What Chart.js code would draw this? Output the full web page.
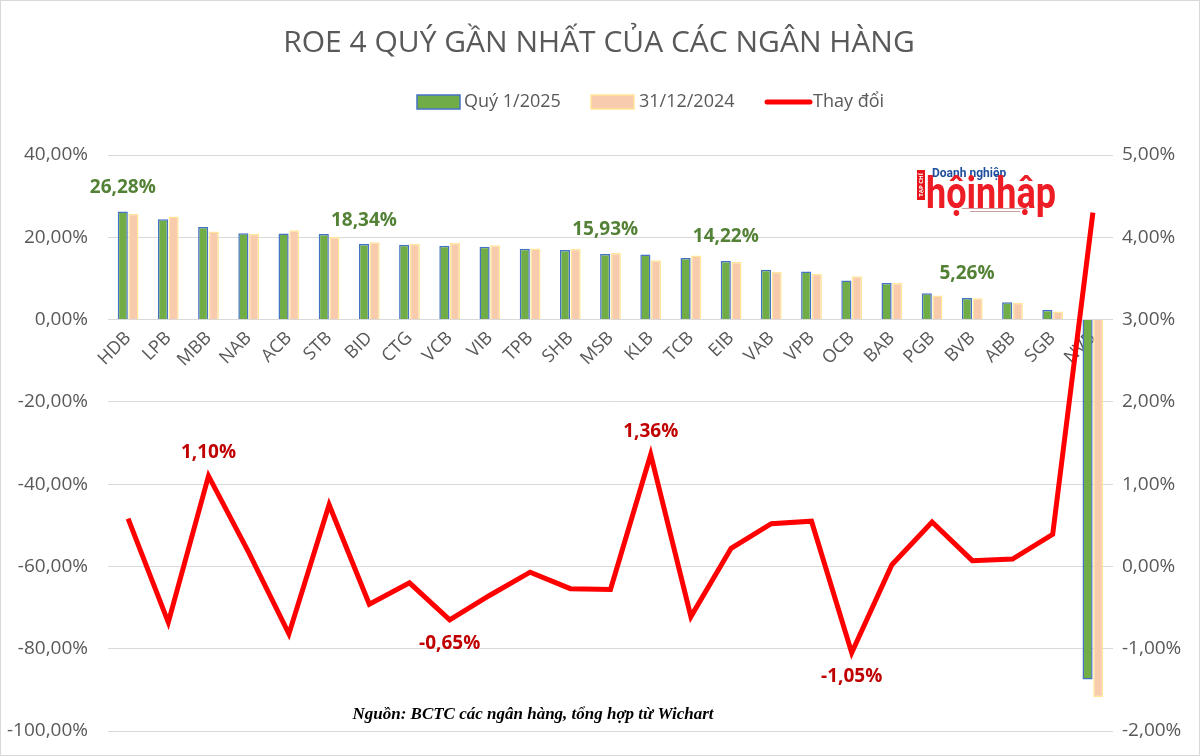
<!DOCTYPE html>
<html>
<head>
<meta charset="utf-8">
<script src="https://cdn.jsdelivr.net/npm/chart.js@4/dist/chart.umd.min.js"></script>
<style>
  html, body { margin: 0; padding: 0; background: #fff; }
  #wrap { width: 1200px; height: 756px; }
</style>
</head>
<body>
<div id="wrap"><canvas id="roe" width="1200" height="756"></canvas></div>
<script>
// ROE 4 quý gần nhất — dữ liệu
const categories = ['HDB', 'LPB', 'MBB', 'NAB', 'ACB', 'STB', 'BID', 'CTG', 'VCB', 'VIB', 'TPB', 'SHB', 'MSB',
  'KLB', 'TCB', 'EIB', 'VAB', 'VPB', 'OCB', 'BAB', 'PGB', 'BVB', 'ABB', 'SGB', 'NVB'];
const roeQ1 = [26.28, 24.4, 22.5, 21.0, 20.9, 20.8, 18.34, 18.2, 17.95, 17.7, 17.2, 16.9, 15.93,
  15.8, 14.95, 14.22, 12.1, 11.7, 9.5, 8.9, 6.4, 5.26, 4.2, 2.35, -87.5];
const roeDec = [25.7, 25.08, 21.4, 20.83, 21.72, 20.05, 18.8, 18.4, 18.6, 18.05, 17.27, 17.17, 16.21,
  14.44, 15.56, 14.0, 11.6, 11.15, 10.55, 8.88, 5.86, 5.19, 4.11, 1.96, -91.8];
const change = [0.58, -0.68, 1.10, 0.17, -0.82, 0.75, -0.46, -0.20, -0.65, -0.35, -0.07, -0.27, -0.28,
  1.36, -0.61, 0.22, 0.52, 0.55, -1.05, 0.02, 0.54, 0.07, 0.09, 0.39, 4.30];
const leftTicks = [-100, -80, -60, -40, -20, 0, 20, 40];
const rightTicks = [-2, -1, 0, 1, 2, 3, 4, 5];
const seriesNames = ['Quý 1/2025', '31/12/2024', 'Thay đổi'];
const labeledQ1 = ['HDB', 'BID', 'MSB', 'EIB', 'BVB'];
const labeledChange = ['MBB', 'VCB', 'KLB', 'OCB'];

const TITLE = 'ROE 4 QUÝ GẦN NHẤT CỦA CÁC NGÂN HÀNG';
const SOURCE = 'Nguồn: BCTC các ngân hàng, tổng hợp từ Wichart';
const GREY = '#595959';
const FONT = '"Open Sans", sans-serif';

const pct = v => v.toFixed(2).replace('.', ',') + '%';

// tiêu đề, chú thích, nhãn số liệu, logo
const decor = {
  id: 'decor',
  afterDatasetsDraw(chart) {
    const ctx = chart.ctx;
    ctx.save();

    // nhãn ROE quý 1
    const m0 = chart.getDatasetMeta(0);
    ctx.font = 'bold 19px ' + FONT;
    ctx.fillStyle = '#538135';
    ctx.textAlign = 'center';
    ctx.textBaseline = 'middle';
    labeledQ1.forEach(c => {
      const i = categories.indexOf(c);
      const el = m0.data[i];
      ctx.fillText(pct(roeQ1[i]), el.x, el.y - 24);
    });

    // nhãn thay đổi
    const m2 = chart.getDatasetMeta(2);
    ctx.fillStyle = '#c00000';
    labeledChange.forEach(c => {
      const i = categories.indexOf(c);
      const el = m2.data[i];
      const off = change[i] >= 0 ? -23 : 24;
      ctx.fillText(pct(change[i]), el.x, el.y + off);
    });
    ctx.restore();
  },
  afterDraw(chart) {
    const ctx = chart.ctx;
    ctx.save();
    // viền ngoài
    ctx.strokeStyle = '#d9d9d9';
    ctx.lineWidth = 1;
    ctx.strokeRect(0.5, 0.5, 1199, 755);

    // tiêu đề
    ctx.fillStyle = GREY;
    ctx.font = '30px ' + FONT;
    ctx.textAlign = 'center';
    ctx.textBaseline = 'middle';
    ctx.fillText(TITLE, 599, 43);

    // chú thích
    ctx.font = '18px ' + FONT;
    ctx.textAlign = 'left';
    const ly = 102;
    ctx.fillStyle = '#70ad47';
    ctx.fillRect(417, ly - 7, 43, 14);
    ctx.strokeStyle = '#4472c4';
    ctx.lineWidth = 1.5;
    ctx.strokeRect(417, ly - 7, 43, 14);
    ctx.fillStyle = GREY;
    ctx.fillText(seriesNames[0], 464, ly);

    ctx.fillStyle = '#f8cbad';
    ctx.fillRect(591, ly - 7, 43, 14);
    ctx.strokeStyle = '#ffe699';
    ctx.strokeRect(591, ly - 7, 43, 14);
    ctx.fillStyle = GREY;
    ctx.fillText(seriesNames[1], 639, ly);

    ctx.strokeStyle = '#ff0000';
    ctx.lineWidth = 5;
    ctx.lineCap = 'round';
    ctx.beginPath();
    ctx.moveTo(767, ly);
    ctx.lineTo(810, ly);
    ctx.stroke();
    ctx.fillStyle = GREY;
    ctx.fillText(seriesNames[2], 813, ly);

    // logo
    ctx.fillStyle = '#e8141b';
    ctx.fillRect(917, 170, 8, 30);
    ctx.save();
    ctx.translate(921, 185);
    ctx.rotate(-Math.PI / 2);
    ctx.fillStyle = '#fff';
    ctx.font = 'bold 6px ' + FONT;
    ctx.textAlign = 'center';
    ctx.fillText('TẠP CHÍ', 0, 0);
    ctx.restore();
    ctx.fillStyle = '#1f4e9c';
    ctx.font = 'bold 12px Roboto, sans-serif';
    ctx.textAlign = 'left';
    ctx.fillText('Doanh nghiệp', 932, 174);
    ctx.save();
    ctx.font = 'bold 44px Roboto, sans-serif';
    const w = ctx.measureText('hộinhập').width;
    ctx.translate(926, 197);
    ctx.scale(130 / w, 1);
    ctx.fillStyle = '#ee1c25';
    ctx.fillText('hộinhập', 0, 0);
    ctx.restore();
    ctx.fillStyle = '#c9a0a0';
    ctx.fillRect(962, 208, 66, 1);
    ctx.fillRect(970, 211, 50, 1);

    // nguồn
    ctx.fillStyle = '#000';
    ctx.font = 'italic bold 17px "Liberation Serif", serif';
    ctx.textAlign = 'center';
    ctx.fillText(SOURCE, 533, 715);
    ctx.restore();
  }
};

new Chart(document.getElementById('roe'), {
  data: {
    labels: categories,
    datasets: [
      {
        type: 'bar',
        label: seriesNames[0],
        data: roeQ1,
        backgroundColor: '#70ad47',
        borderColor: '#4472c4',
        borderWidth: 1.5,
        categoryPercentage: 0.53,
        barPercentage: 0.95,
        yAxisID: 'y',
        order: 2
      },
      {
        type: 'bar',
        label: seriesNames[1],
        data: roeDec,
        backgroundColor: '#f8cbad',
        borderColor: '#ffe699',
        borderWidth: 1.5,
        categoryPercentage: 0.53,
        barPercentage: 0.95,
        yAxisID: 'y',
        order: 2
      },
      {
        type: 'line',
        label: seriesNames[2],
        data: change,
        borderColor: '#ff0000',
        borderWidth: 5,
        pointRadius: 0,
        tension: 0,
        yAxisID: 'y1',
        order: 0
      }
    ]
  },
  options: {
    responsive: false,
    animation: false,
    layout: { padding: { top: 155, bottom: 25, left: 0, right: 0 } },
    plugins: {
      legend: { display: false },
      title: { display: false },
      tooltip: { enabled: false }
    },
    scales: {
      x: {
        position: { y: 0 },
        grid: { display: false, drawTicks: false },
        border: { display: false },
        ticks: {
          color: GREY,
          font: { family: FONT, size: 18 },
          minRotation: 45,
          maxRotation: 45,
          padding: 8,
          autoSkip: false
        },
        afterFit: s => { s.height = 0; }
      },
      y: {
        position: 'left',
        min: leftTicks[0],
        max: leftTicks[leftTicks.length - 1],
        afterBuildTicks: s => { s.ticks = leftTicks.map(v => ({ value: v })); },
        grid: { color: '#d9d9d9', lineWidth: 1, drawTicks: false },
        border: { display: false },
        ticks: {
          color: GREY,
          font: { family: FONT, size: 19 },
          padding: 20,
          callback: v => pct(v)
        },
        afterFit: s => { s.width = 108; s.paddingTop = 0; s.paddingBottom = 0; }
      },
      y1: {
        position: 'right',
        min: rightTicks[0],
        max: rightTicks[rightTicks.length - 1],
        afterBuildTicks: s => { s.ticks = rightTicks.map(v => ({ value: v })); },
        grid: { display: false, drawTicks: false },
        border: { display: false },
        ticks: {
          color: GREY,
          font: { family: FONT, size: 19 },
          padding: 9,
          callback: v => pct(v)
        },
        afterFit: s => { s.width = 87; s.paddingTop = 0; s.paddingBottom = 0; }
      }
    }
  },
  plugins: [decor]
});
</script>
</body>
</html>
